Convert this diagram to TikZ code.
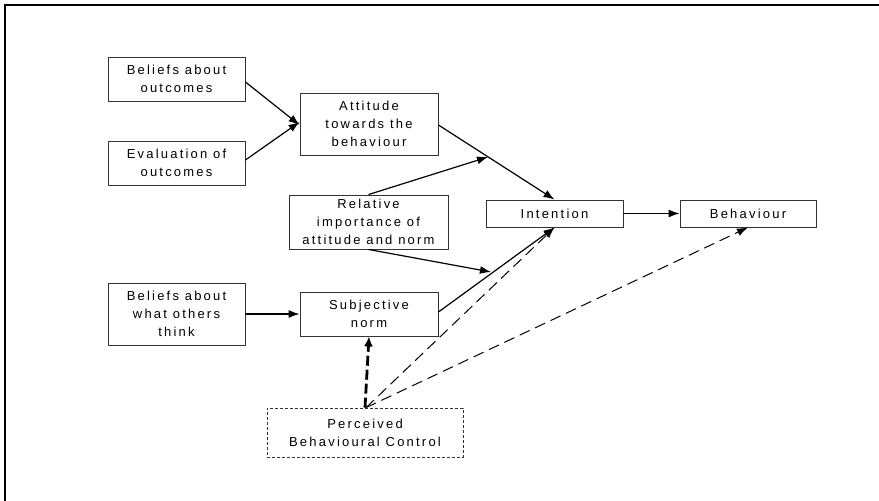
\documentclass[tikz,border=0pt]{standalone}
\usepackage{fontspec}
\setmainfont{Liberation Sans}[LetterSpace=17]
\usetikzlibrary{arrows.meta}
\tikzset{
  box/.style={draw=black!80, line width=0.9pt, align=center, inner sep=0pt,
    font=\fontsize{13}{18}\selectfont, text=black},
  pbox/.style={box, densely dashed, line width=0.7pt},
  link/.style={-{Latex[length=11pt,width=8pt]}, line width=1.2pt},
  dlink/.style={-{Latex[length=11pt,width=8pt]}, line width=1pt, dash pattern=on 11pt off 6pt},
  tlink/.style={-{Latex[length=10pt,width=9pt]}, line width=2.8pt, dash pattern=on 10pt off 4pt}
}
\begin{document}
\begin{tikzpicture}[x=1pt,y=-1pt]
  \useasboundingbox (0,0) rectangle (879,501);
  % page frame
  \draw[line width=2pt] (5,501) -- (5,5) -- (879,5);

  \node[box, minimum width=137pt, minimum height=44pt] (bo) at (176.5,79) {Beliefs about\\outcomes};
  \node[box, minimum width=137pt, minimum height=44pt] (eo) at (176.5,163) {Evaluation of\\outcomes};
  \node[box, minimum width=138pt, minimum height=62pt] (att) at (369,124) {Attitude\\towards the\\behaviour};
  \node[box, minimum width=159pt, minimum height=54pt] (rel) at (368.5,222) {Relative\\importance of\\attitude and norm};
  \node[box, minimum width=137pt, minimum height=27pt] (int) at (554.5,213.5) {Intention};
  \node[box, minimum width=136pt, minimum height=27pt] (beh) at (748,213.5) {Behaviour};
  \node[box, minimum width=137pt, minimum height=62pt] (bw) at (176.5,314) {Beliefs about\\what others\\think};
  \node[box, minimum width=138pt, minimum height=44pt] (sn) at (369,314) {Subjective\\norm};
  \node[pbox, minimum width=196pt, minimum height=49pt] (pbc) at (365,432.5) {Perceived\\Behavioural Control};

  \coordinate (m1) at (488,157);
  \coordinate (m2) at (491,272);

  \draw[link] (bo.east |- 0,82) -- (att.west |- 0,125);
  \draw[link] (eo.east |- 0,160) -- (att.west |- 0,122);
  \draw[link] (att.east |- 0,125) -- (int.north);
  \draw[link] (rel.north) -- (m1);
  \draw[link] (rel.south) -- (m2);
  \draw[link] (sn.east |- 0,312) -- (int.south);
  \draw[link] (bw.east) -- (sn.west);
  \draw[link] (int.east) -- (beh.west);
  \draw[tlink] (pbc.north) -- (sn.south);
  \draw[dlink] ([xshift=1pt]pbc.north) -- (int.south);
  \draw[dlink] ([xshift=1pt]pbc.north) -- (beh.south);
\end{tikzpicture}
\end{document}
